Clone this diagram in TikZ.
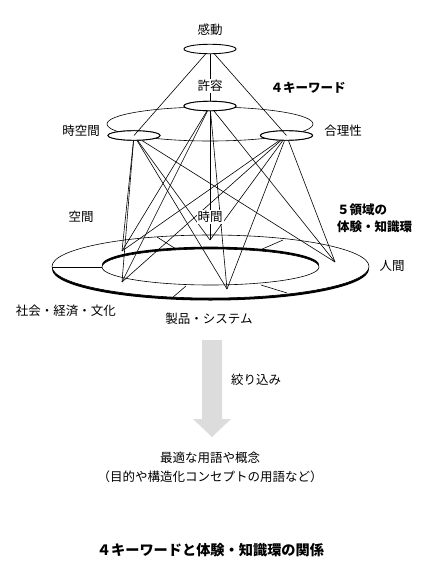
\documentclass[tikz,border=0pt]{standalone}
\usepackage{fontspec}
\setmainfont{Noto Sans CJK JP}
\usetikzlibrary{shapes.geometric}
\definecolor{arrowgray}{RGB}{220,220,220}
\tikzset{
  lbl/.style={font=\fontsize{12.5}{15}\selectfont, inner sep=1pt},
  lblw/.style={lbl, fill=white},
  blbl/.style={font=\fontsize{12.5}{17}\selectfont\bfseries, inner sep=1pt},
  kw/.style={ellipse, draw, line width=0.9pt, fill=white, minimum width=52pt, minimum height=9.5pt, inner sep=0pt},
  link/.style={line width=0.6pt},
  ringline/.style={line width=0.6pt},
}
\begin{document}
\begin{tikzpicture}[x=1pt,y=-1pt]
\path[use as bounding box] (0,0) rectangle (431,576);

% ---------- ring (5 regions) ----------
\coordinate (ringO) at (210.5,266.5);
\coordinate (ringI) at (210.5,267);
\fill[black] (210.5,269) ellipse [x radius=158.5, y radius=31.5];
\fill[white] (ringO) ellipse [x radius=158.5, y radius=31.5];
\draw[ringline] (ringO) ellipse [x radius=158.5, y radius=31.5];
\fill[black] (210.5,264.7) ellipse [x radius=108.5, y radius=18];
\fill[white] (ringI) ellipse [x radius=108.5, y radius=18];
\draw[ringline] (ringI) ellipse [x radius=108.5, y radius=18];
% dividers
\coordinate (d1a) at (52,267);  \coordinate (d1b) at (102,267);
\coordinate (d2a) at (157,237); \coordinate (d2b) at (176,249);
\coordinate (d3a) at (260,250); \coordinate (d3b) at (283,240);
\coordinate (d4a) at (172,298); \coordinate (d4b) at (186,286);
\coordinate (d5a) at (261,285); \coordinate (d5b) at (287,293);
\draw[ringline] (d1a) -- (d1b);
\draw[ringline] (d2a) -- (d2b);
\draw[ringline] (d3a) -- (d3b);
\draw[ringline] (d4a) -- (d4b);
\draw[ringline] (d5a) -- (d5b);

% target points in the ring
\coordinate (T1) at (122,251);
\coordinate (T2) at (122,282);
\coordinate (T3) at (210,240);
\coordinate (T4) at (227,289);
\coordinate (T5) at (335,262);

% ---------- keyword plane ----------
\coordinate (plane) at (210,124);
\draw[ringline] (plane) ellipse [x radius=103, y radius=17];

\node[kw] (kyoyo) at (210,106) {};
\node[kw] (jikukan) at (134,135.5) {};
\node[kw] (gouri) at (286.5,135.5) {};
\node[kw] (kando) at (210,49) {};

% links from keywords to the five regions
\foreach \s in {kyoyo,jikukan,gouri}{
  \foreach \t in {T1,T2,T3,T4,T5}{
    \draw[link] (\s) -- (\t);
  }
}
% redraw keyword ellipses on top
\node[kw] at (kyoyo) {};
\node[kw] at (jikukan) {};
\node[kw] at (gouri) {};

% links from 感動
\draw[link] (kando) -- (kyoyo);
\draw[link] (kando) -- (jikukan.center);
\draw[link] (kando) -- (gouri.center);

% ---------- labels ----------
\node[lbl] (lkando) at (210,30) {感動};
\node[lblw] (lkyoyo) at (210,86) {許容};
\node[blbl] (l4kw) at (308,88) {４キーワード};
\node[lbl] (ljikukan) at (81,131) {時空間};
\node[lbl] (lgouri) at (343,131) {合理性};
\node[lbl] (lkukan) at (81,217) {空間};
\node[lblw] (ljikan) at (210,217) {時間};
\node[blbl, anchor=west, align=left] (l5) at (336,218.5) {５領域の\\体験・知識環};
\node[lbl] (lningen) at (392,266) {人間};
\node[lbl] (lshakai) at (66,311) {社会・経済・文化};
\node[lbl] (lseihin) at (209,319) {製品・システム};

% ---------- narrowing arrow ----------
\coordinate (arr) at (212,340);
\fill[arrowgray] (arr) ++(-10,0) -- ++(20,0) -- ++(0,79) -- ++(9,0) -- ++(-19,18) -- ++(-19,-18) -- ++(9,0) -- cycle;
\node[lbl] (lshibori) at (256,380) {絞り込み};

\node[lbl] (lres1) at (210,458) {最適な用語や概念};
\node[lbl] (lres2) at (210,477) {（目的や構造化コンセプトの用語など）};

\node[font=\fontsize{14.2}{17}\selectfont\bfseries, inner sep=1pt] (ltitle) at (210.5,550) {４キーワードと体験・知識環の関係};
\end{tikzpicture}
\end{document}
